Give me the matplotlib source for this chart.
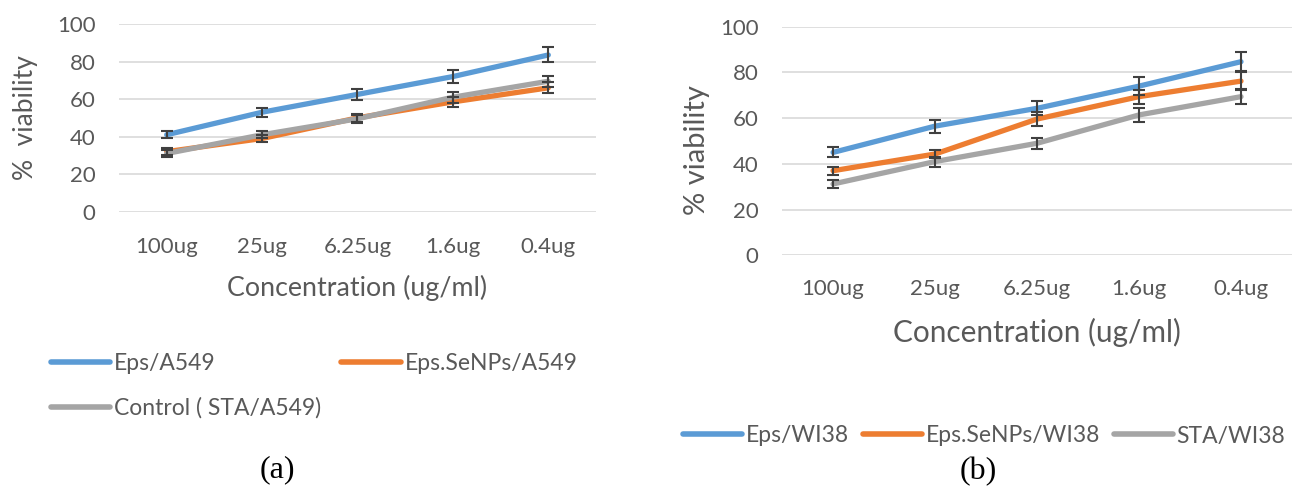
import matplotlib.pyplot as plt
import numpy as np

plt.rcParams['font.family'] = ['Lato', 'DejaVu Sans']

conc = ["100ug", "25ug", "6.25ug", "1.6ug", "0.4ug"]

# (a) A549 cells
eps_a549 = [41, 53, 62.5, 72, 83.5]
eps_a549_err = [2, 2.5, 3, 3.5, 4]
senp_a549 = [32, 39, 50, 58.5, 66]
senp_a549_err = [1.8, 1.8, 2, 2.5, 3]
sta_a549 = [31, 41, 49.5, 61, 69.5]
sta_a549_err = [1.8, 2, 2, 3, 3]

# (b) WI38 cells
eps_wi38 = [45, 56.5, 64.3, 74, 84.7]
eps_wi38_err = [2.2, 2.8, 3, 3.8, 4.2]
senp_wi38 = [37, 44.3, 59.6, 69.4, 76.2]
senp_wi38_err = [1.8, 1.8, 3, 3, 3.8]
sta_wi38 = [31.2, 41, 49, 61.4, 69.4]
sta_wi38_err = [1.8, 2.2, 2.5, 3, 3.3]

BLUE = '#5B9BD5'
ORANGE = '#ED7D31'
GRAY = '#A5A5A5'
TXT = '#595959'

fig = plt.figure(figsize=(12.92, 4.93), dpi=100)
ax1 = fig.add_axes([0.0921, 0.5706, 0.3692, 0.3807])
ax2 = fig.add_axes([0.6053, 0.4822, 0.3947, 0.4636])

x = np.arange(len(conc))


def draw(ax, series, labelsize, xpad):
    for vals, errs, col, lab in series:
        ax.plot(x, vals, color=col, lw=3.8, solid_capstyle='round', label=lab, zorder=3)
        ax.errorbar(x, vals, yerr=errs, fmt='none', ecolor='#404040',
                    elinewidth=1.5, capsize=4.5, capthick=1.5, zorder=4)
    ax.set_xlim(-0.5, len(conc) - 0.5)
    ax.set_ylim(0, 100)
    ax.set_yticks(range(0, 101, 20))
    ax.set_xticks(x)
    ax.set_xticklabels(conc)
    ax.yaxis.grid(True, color='#D9D9D9', lw=1.2)
    ax.set_axisbelow(True)
    for s in ax.spines.values():
        s.set_visible(False)
    ax.tick_params(length=0, labelsize=16, colors=TXT)
    ax.tick_params(axis='x', pad=xpad)
    ax.tick_params(axis='y', pad=17)
    ax.set_xlabel("Concentration (ug/ml)", fontsize=labelsize, color=TXT)
    ax.xaxis.label.set_va('center')


draw(ax1, [(eps_a549, eps_a549_err, BLUE, "Eps/A549"),
           (senp_a549, senp_a549_err, ORANGE, "Eps.SeNPs/A549"),
           (sta_a549, sta_a549_err, GRAY, "Control ( STA/A549)")], 19.3, 18)
ax1.set_ylabel("%  viability", fontsize=19, color=TXT)
ax1.yaxis.label.set_va('center')
ax1.xaxis.set_label_coords(0.5, -0.4065)
ax1.yaxis.set_label_coords(-0.197, 0.5)

draw(ax2, [(eps_wi38, eps_wi38_err, BLUE, "Eps/WI38"),
           (senp_wi38, senp_wi38_err, ORANGE, "Eps.SeNPs/WI38"),
           (sta_wi38, sta_wi38_err, GRAY, "STA/WI38")], 21.4, 17)
ax2.set_ylabel("% viability", fontsize=21, color=TXT)
ax2.yaxis.label.set_va('center')
ax2.xaxis.set_label_coords(0.5, -0.337)
ax2.yaxis.set_label_coords(-0.1667, 0.46)

# legend (a) reads row by row: Eps, Eps.SeNPs / Control
h1, l1 = ax1.get_legend_handles_labels()
order = [0, 2, 1]
leg1 = ax1.legend([h1[i] for i in order], [l1[i] for i in order],
                  ncol=2, loc='center left', bbox_to_anchor=(30 / 1292, 1 - 386 / 493),
                  bbox_transform=fig.transFigure, frameon=False, fontsize=16.5,
                  handlelength=2.6, handletextpad=0.15, columnspacing=0.9,
                  labelspacing=1.0, labelcolor=TXT)
leg2 = ax2.legend(ncol=3, loc='center left', bbox_to_anchor=(662 / 1292, 1 - 436 / 493),
                  bbox_transform=fig.transFigure, frameon=False, fontsize=16.5,
                  handlelength=2.6, handletextpad=0.15, columnspacing=0.6,
                  labelcolor=TXT)
for leg in (leg1, leg2):
    for h in leg.get_lines():
        h.set_linewidth(4)

fig.text(277 / 1292, 1 - 470 / 493, "(a)", family='Liberation Serif', fontsize=23,
         ha='center', va='center')
fig.text(978 / 1292, 1 - 472 / 493, "(b)", family='Liberation Serif', fontsize=23,
         ha='center', va='center')

fig.savefig('out.png', dpi=100)
